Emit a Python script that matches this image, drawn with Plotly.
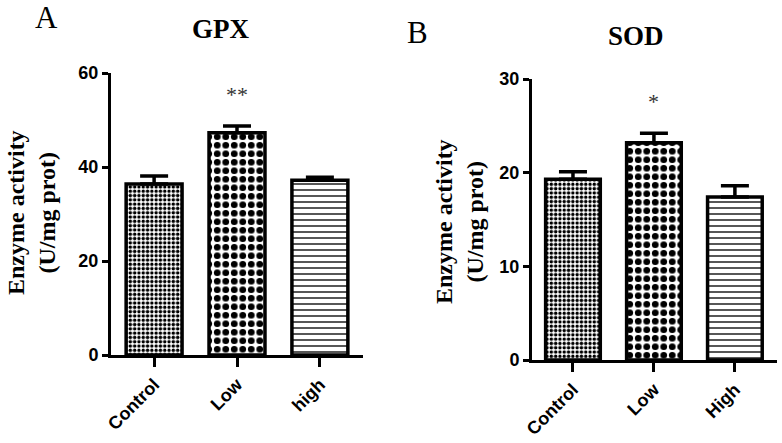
import plotly.graph_objects as go

# ---- data ----
gpx_groups = ["Control", "Low", "high"]
gpx_values = [36.4, 47.3, 37.2]
gpx_err = [1.7, 1.4, 0.6]
gpx_sig = ["", "**", ""]

sod_groups = ["Control", "Low", "High"]
sod_values = [19.3, 23.2, 17.4]
sod_err = [0.8, 1.0, 1.2]
sod_sig = ["", "*", ""]

patterns = [
    dict(shape=".", size=4.3, solidity=0.5, fgcolor="black", bgcolor="white", fgopacity=1),
    dict(shape=".", size=8.5, solidity=0.5, fgcolor="black", bgcolor="white", fgopacity=1),
    dict(shape="-", size=6, solidity=0.22, fgcolor="black", bgcolor="white", fgopacity=1),
]

W, H = 782, 443


def px(x):
    return x / W


def py(y):
    return 1 - y / H


fig = go.Figure()


def add_panel(groups, values, err, xa, ya):
    for i, g in enumerate(groups):
        fig.add_trace(go.Bar(
            x=[g], y=[values[i]], xaxis=xa, yaxis=ya,
            marker=dict(color="white", pattern=patterns[i],
                        line=dict(color="black", width=3.5)),
            error_y=dict(type="data", symmetric=False, array=[err[i]],
                         arrayminus=[0], color="black", thickness=3.5, width=14),
            showlegend=False, cliponaxis=False,
        ))


add_panel(gpx_groups, gpx_values, gpx_err, "x", "y")
add_panel(sod_groups, sod_values, sod_err, "x2", "y2")

tickfont = dict(family="Liberation Sans", size=18, color="black", weight="bold")
common_x = dict(type="category", showline=True, linecolor="black", linewidth=3,
                ticks="outside", ticklen=9, tickwidth=3, tickcolor="black",
                tickangle=-45, tickfont=tickfont, showgrid=False, zeroline=False,
                automargin=False)
common_y = dict(showline=True, linecolor="black", linewidth=3,
                ticks="outside", ticklen=6, tickwidth=3, tickcolor="black",
                tickfont=tickfont, showgrid=False, zeroline=False, automargin=False)

fig.update_layout(
    width=W, height=H,
    margin=dict(l=0, r=0, t=0, b=0),
    paper_bgcolor="white", plot_bgcolor="white",
    barmode="overlay", bargap=0.325,
    xaxis=dict(common_x, domain=[px(111), px(363)], range=[-0.52, 2.52],
               categoryorder="array", categoryarray=gpx_groups),
    yaxis=dict(common_y, domain=[py(355), py(73)], range=[0, 60],
               dtick=20, anchor="x"),
    xaxis2=dict(common_x, domain=[px(532), px(777)], range=[-0.506, 2.52],
                categoryorder="array", categoryarray=sod_groups, anchor="y2"),
    yaxis2=dict(common_y, domain=[py(360), py(79)], range=[0, 30],
                dtick=10, anchor="x2"),
)

serif = "Liberation Serif"
C = dict(xanchor="center", yanchor="middle", showarrow=False)
ann = []
ann.append(dict(C, text="A", x=px(46), y=py(18), xref="paper", yref="paper",
                font=dict(family=serif, size=31, color="black")))
ann.append(dict(C, text="B", x=px(417), y=py(32), xref="paper", yref="paper",
                font=dict(family=serif, size=31, color="black")))
ann.append(dict(C, text="<b>GPX</b>", x=px(220), y=py(29), xref="paper", yref="paper",
                font=dict(family=serif, size=27, color="black")))
ann.append(dict(C, text="<b>SOD</b>", x=px(636), y=py(36), xref="paper", yref="paper",
                font=dict(family=serif, size=27, color="black")))
ann.append(dict(C, text="<b>Enzyme activity<br>(U/mg prot)</b>", x=px(32), y=py(213),
                xref="paper", yref="paper", textangle=-90,
                font=dict(family=serif, size=24, color="black")))
ann.append(dict(C, text="<b>Enzyme activity<br>(U/mg prot)</b>", x=px(459), y=py(222),
                xref="paper", yref="paper", textangle=-90,
                font=dict(family=serif, size=24, color="black")))
for i, s in enumerate(gpx_sig):
    if s:
        ann.append(dict(C, text=s, x=gpx_groups[i], y=gpx_values[i] + gpx_err[i] + 6.8,
                        xref="x", yref="y",
                        font=dict(family=serif, size=22, color="#333")))
for i, s in enumerate(sod_sig):
    if s:
        ann.append(dict(C, text=s, x=sod_groups[i], y=sod_values[i] + sod_err[i] + 3.4,
                        xref="x2", yref="y2",
                        font=dict(family=serif, size=22, color="#333")))
fig.update_layout(annotations=ann)

# remove the browser's default 8px body margin so the figure fills the window
fig.write_html("out.html",
               config={"displayModeBar": False},
               post_script="document.body.style.margin='0';document.body.style.overflow='hidden';")
